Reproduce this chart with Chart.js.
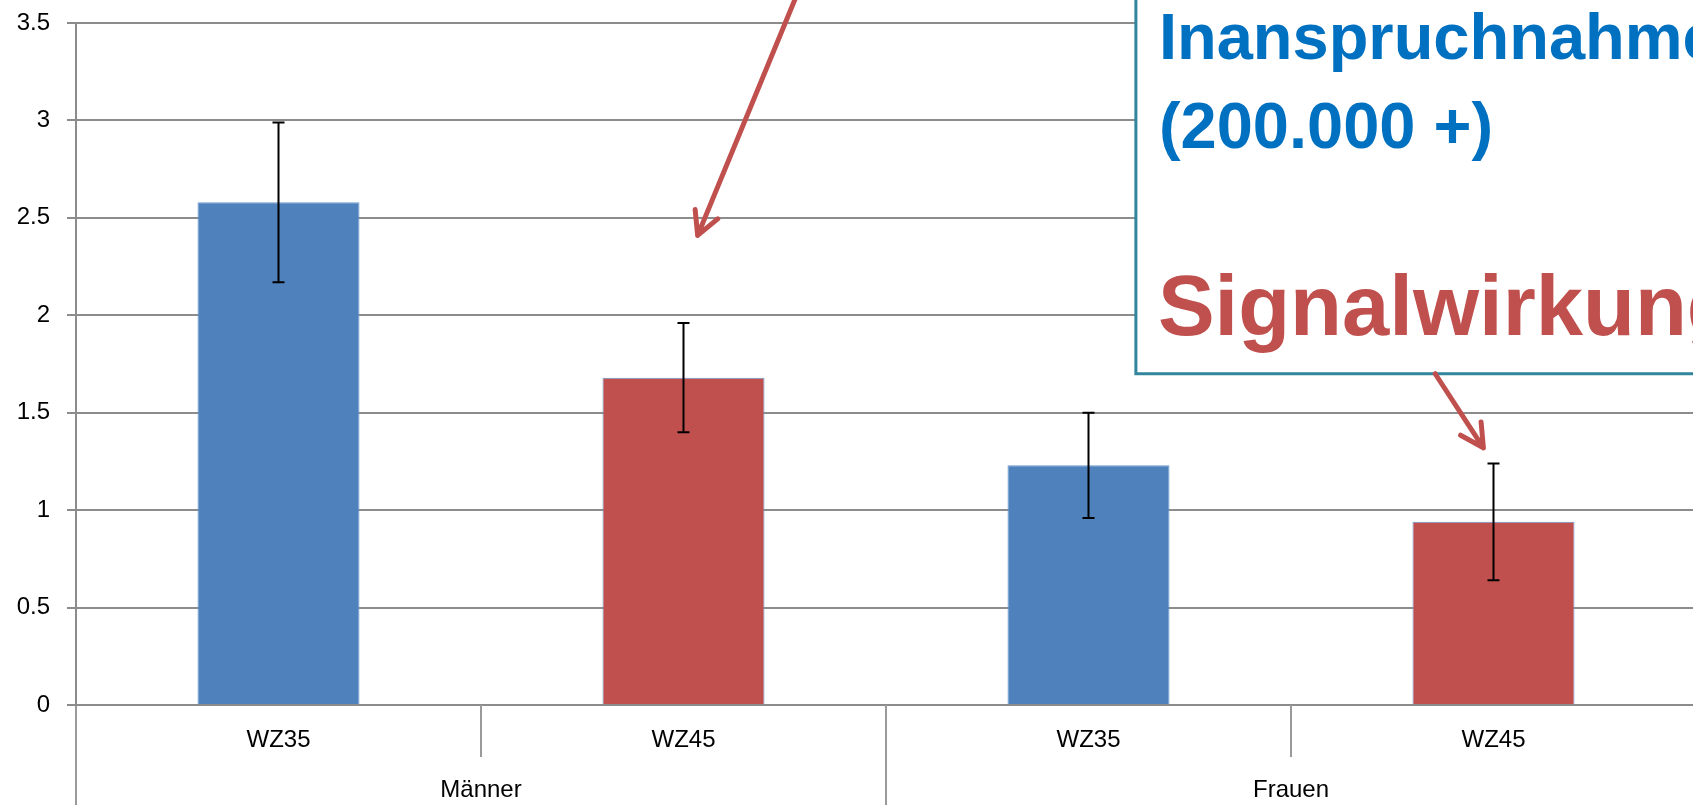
<!DOCTYPE html>
<html>
<head>
<meta charset="utf-8">
<script src="https://cdn.jsdelivr.net/npm/chart.js@4.4.1/dist/chart.umd.min.js"></script>
<style>
  html, body { margin: 0; padding: 0; background: #fff; overflow: hidden; }
</style>
</head>
<body>
<canvas id="chart" width="1700" height="805"></canvas>
<script>
// --- data ---
const categories = ["WZ35", "WZ45", "WZ35", "WZ45"];
const groups = ["Männer", "Frauen"];
const means = [2.58, 1.68, 1.23, 0.94];
const errors = [0.41, 0.28, 0.27, 0.30];
const yMin = 0, yMax = 3.5, yStep = 0.5;

const barColors = ["#4F81BD", "#C0504D", "#4F81BD", "#C0504D"];
const gridGray = "#8c8c8c";

// error bars drawn through the y scale
const errorBars = {
  id: "errorBars",
  afterDatasetsDraw(chart) {
    const meta = chart.getDatasetMeta(0);
    const y = chart.scales.y;
    const ctx = chart.ctx;
    ctx.save();
    ctx.strokeStyle = "#000";
    ctx.lineWidth = 2;
    meta.data.forEach((bar, i) => {
      const top = y.getPixelForValue(means[i] + errors[i]);
      const bot = y.getPixelForValue(means[i] - errors[i]);
      ctx.beginPath();
      ctx.moveTo(bar.x, top); ctx.lineTo(bar.x, bot);
      ctx.moveTo(bar.x - 6, top); ctx.lineTo(bar.x + 6, top);
      ctx.moveTo(bar.x - 6, bot); ctx.lineTo(bar.x + 6, bot);
      ctx.stroke();
    });
    ctx.restore();
  }
};

// callout box + arrows, anchored in data units
function arrow(ctx, x1, y1, x2, y2) {
  const a = Math.atan2(y1 - y2, x1 - x2);
  const len = 26, spread = 28 * Math.PI / 180;
  ctx.beginPath();
  ctx.moveTo(x1, y1); ctx.lineTo(x2, y2);
  ctx.moveTo(x2 + len * Math.cos(a - spread), y2 + len * Math.sin(a - spread));
  ctx.lineTo(x2, y2);
  ctx.lineTo(x2 + len * Math.cos(a + spread), y2 + len * Math.sin(a + spread));
  ctx.stroke();
}

const callout = {
  id: "callout",
  afterDraw(chart) {
    const ctx = chart.ctx, x = chart.scales.x, y = chart.scales.y;
    const left = x.getPixelForValue(2.117);
    const bottom = y.getPixelForValue(1.70);
    ctx.save();
    ctx.fillStyle = "#fff";
    ctx.fillRect(left, -10, 700, bottom + 10);
    ctx.strokeStyle = "#31859C";
    ctx.lineWidth = 3;
    ctx.strokeRect(left, -10, 700, bottom + 10);

    ctx.textAlign = "left";
    ctx.textBaseline = "alphabetic";
    ctx.fillStyle = "#0070C0";
    ctx.font = "bold 65px 'Liberation Sans', Arial, sans-serif";
    ctx.fillText("Inanspruchnahme", left + 23, bottom - 315);
    ctx.fillText("(200.000 +)", left + 23, bottom - 226);
    ctx.fillStyle = "#C0504D";
    ctx.font = "bold 85px 'Liberation Sans', Arial, sans-serif";
    ctx.fillText("Signalwirkung", left + 22, bottom - 39);

    ctx.strokeStyle = "#C0504D";
    ctx.lineWidth = 5;
    ctx.lineCap = "round";
    ctx.lineJoin = "round";
    arrow(ctx, x.getPixelForValue(1.275), y.getPixelForValue(3.62),
               x.getPixelForValue(1.035), y.getPixelForValue(2.41));
    arrow(ctx, x.getPixelForValue(2.856), bottom,
               x.getPixelForValue(2.975), y.getPixelForValue(1.32));
    ctx.restore();
  }
};

const tickFont = { family: "'Liberation Sans', Arial, sans-serif", size: 24 };

new Chart(document.getElementById("chart"), {
  type: "bar",
  data: {
    labels: categories,
    datasets: [{
      data: means,
      backgroundColor: barColors,
      borderColor: "#6a98d0",
      borderWidth: 1,
      categoryPercentage: 1,
      barPercentage: 0.4
    }]
  },
  options: {
    responsive: false,
    animation: false,
    devicePixelRatio: 1,
    layout: { padding: { top: 23, right: 4, left: 0, bottom: 0 } },
    plugins: { legend: { display: false }, tooltip: { enabled: false } },
    scales: {
      y: {
        min: yMin,
        max: yMax,
        afterFit: s => { s.width = 76; s.paddingTop = 0; s.paddingBottom = 0; },
        ticks: {
          stepSize: yStep,
          color: "#000",
          font: tickFont,
          padding: 17,
          callback: v => String(v)
        },
        grid: { color: gridGray, lineWidth: 2, tickLength: 9 },
        border: { display: true, color: gridGray, width: 2 }
      },
      x: {
        position: "bottom",
        weight: 0,
        offset: true,
        afterFit: s => { s.height = 52; },
        ticks: { color: "#000", font: tickFont, padding: -31, maxRotation: 0, autoSkip: false },
        grid: { offset: true, drawOnChartArea: false, color: "#9a9a9a", lineWidth: 2, tickLength: 52 },
        border: { display: false }
      },
      x2: {
        type: "category",
        labels: groups,
        position: "bottom",
        weight: 1,
        offset: true,
        afterFit: s => { s.height = 48; },
        ticks: { color: "#000", font: tickFont, padding: -29, maxRotation: 0, autoSkip: false },
        grid: { offset: true, drawOnChartArea: false, color: "#9a9a9a", lineWidth: 2, tickLength: 48 },
        border: { display: false }
      }
    }
  },
  plugins: [errorBars, callout]
});
</script>
</body>
</html>
